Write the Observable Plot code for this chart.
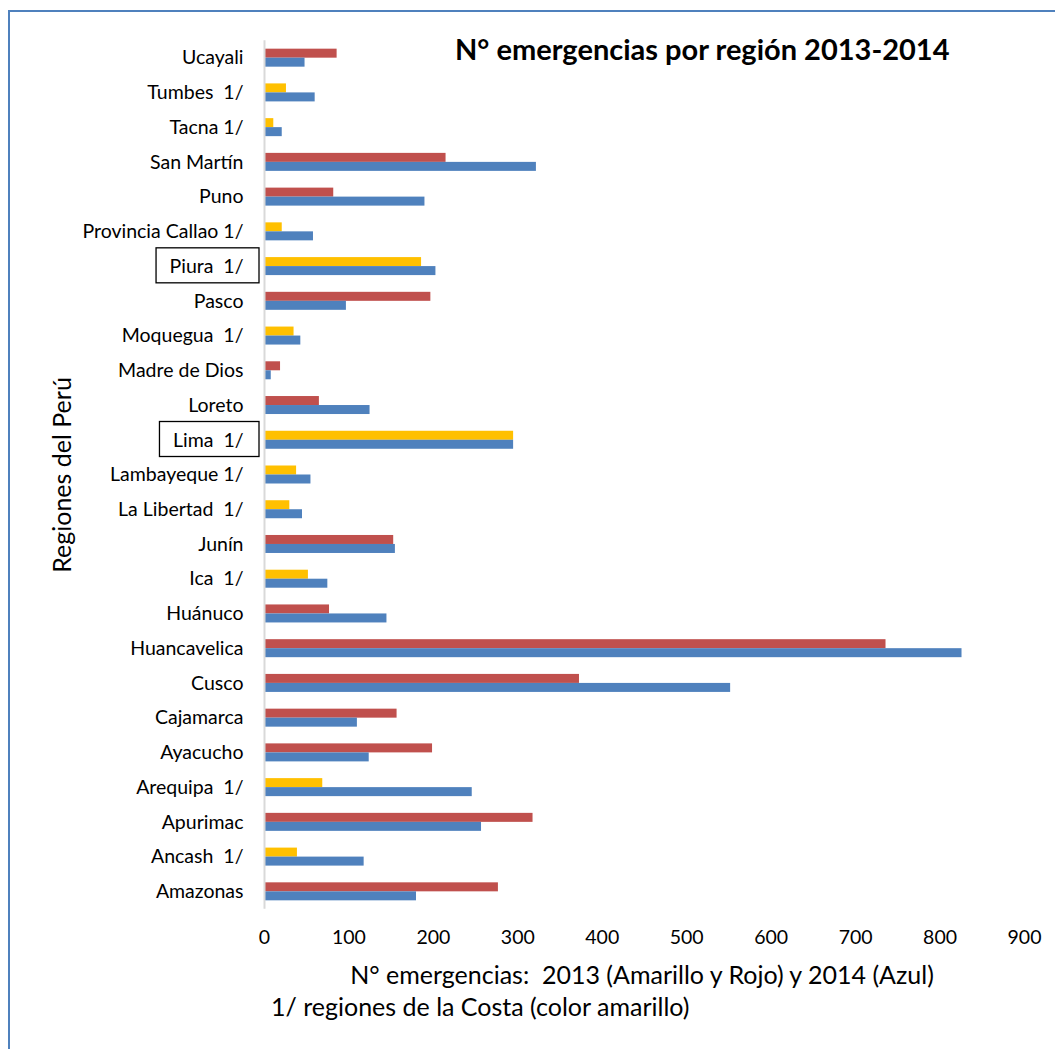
<!DOCTYPE html>
<html>
<head>
<meta charset="utf-8">
<script src="https://cdn.jsdelivr.net/npm/d3@7"></script>
<script src="https://cdn.jsdelivr.net/npm/@observablehq/plot@0.6"></script>
<style>
  html, body { margin: 0; padding: 0; background: #fff; }
  #wrap { position: relative; width: 1055px; height: 1049px; overflow: hidden; }
  #border { position: absolute; left: 8px; top: 10px; width: 1200px; height: 1200px;
            border-left: 2px solid #4f81bd; border-top: 2px solid #4f81bd; box-sizing: border-box; }
  #chart { position: absolute; left: 0; top: 0; }
  svg text { white-space: pre; }
</style>
</head>
<body>
<div id="wrap"><div id="border"></div><div id="chart"></div></div>
<script>
// Regions from top to bottom
const regions = ["Ucayali","Tumbes  1/","Tacna 1/","San Martín","Puno","Provincia Callao 1/","Piura  1/","Pasco","Moquegua  1/","Madre de Dios","Loreto","Lima  1/","Lambayeque 1/","La Libertad  1/","Junín","Ica  1/","Huánuco","Huancavelica","Cusco","Cajamarca","Ayacucho","Arequipa  1/","Apurimac","Ancash  1/","Amazonas"];
const v2013 = [86, 26, 11, 215, 82, 21, 186, 197, 35, 19, 65, 295, 38, 30, 153, 52, 77, 736, 373, 157, 199, 69, 318, 39, 277];
const v2014 = [48, 60, 21, 322, 190, 58, 203, 97, 43, 8, 125, 295, 55, 45, 155, 75, 145, 826, 552, 110, 124, 246, 257, 118, 180];
const costa = [false, true, true, false, false, true, true, false, true, false, false, true, true, true, false, true, false, false, false, false, false, true, false, true, false];
const boxed = ["Piura  1/", "Lima  1/"];
const xTicks = [0, 100, 200, 300, 400, 500, 600, 700, 800, 900];

const title = "N° emergencias por región 2013-2014";
const xLabel = "N° emergencias:  2013 (Amarillo y Rojo) y 2014 (Azul)";
const note = "1/ regiones de la Costa (color amarillo)";
const yLabel = "Regiones del Perú";

const data2013 = regions.map((r, i) => ({region: r, value: v2013[i], cat: costa[i] ? "Costa 2013" : "Otras 2013"}));
const data2014 = regions.map((r, i) => ({region: r, value: v2014[i], cat: "2014"}));

const W = 1055, H = 1049;
const mTop = 40.3, mBottom = 140.3, mLeft = 264, mRight = 31;
const step = (H - mTop - mBottom) / regions.length;
const barH = 9;

const font = "Lato, 'Open Sans', sans-serif";

const chart = Plot.plot({
  width: W,
  height: H,
  marginTop: mTop,
  marginBottom: mBottom,
  marginLeft: mLeft,
  marginRight: mRight,
  style: {fontFamily: font, fontSize: "19.5px", color: "#000", background: "transparent"},
  x: {domain: [0, 900], ticks: xTicks, tickSize: 0, tickPadding: 21, label: null},
  y: {domain: regions, padding: 0, round: false, tickSize: 0, tickPadding: 21, label: null},
  color: {domain: ["Costa 2013", "Otras 2013", "2014"], range: ["#ffc000", "#c0504d", "#4f81bd"]},
  marks: [
    Plot.barX(data2013, {y: "region", x: "value", fill: "cat", insetTop: step / 2 - barH, insetBottom: step / 2}),
    Plot.barX(data2014, {y: "region", x: "value", fill: "cat", insetTop: step / 2, insetBottom: step / 2 - barH}),
    Plot.ruleX([0], {stroke: "#d9d9d9", strokeWidth: 2})
  ]
});
document.getElementById("chart").appendChild(chart);

const svg = d3.select(chart);
// boxes around highlighted labels
svg.selectAll("g[aria-label='y-axis tick label'] text").each(function() {
  const t = d3.select(this).text();
  if (boxed.includes(t)) {
    const bb = this.getBBox();
    const ctm = this.getCTM();
    const cx = ctm.e, cy = ctm.f;
    const yc = cy + bb.y + bb.height / 2;
    const x0 = cx + bb.x - 13.5;
    svg.append("rect")
      .attr("x", x0).attr("y", yc - 17.5)
      .attr("width", (mLeft - 5) - x0).attr("height", 35)
      .attr("fill", "none").attr("stroke", "#000").attr("stroke-width", 1.3);
  }
});

svg.append("text").text(title)
  .attr("x", 455).attr("y", 60).attr("text-anchor", "start")
  .attr("font-family", font).attr("font-size", 29).attr("font-weight", "bold").attr("fill", "#000");
svg.append("text").text(xLabel)
  .attr("x", 642).attr("y", 984).attr("text-anchor", "middle")
  .attr("font-family", font).attr("font-size", 25).attr("fill", "#000");
svg.append("text").text(note)
  .attr("x", 271).attr("y", 1016).attr("text-anchor", "start")
  .attr("font-family", font).attr("font-size", 25).attr("fill", "#000");
svg.append("text").text(yLabel)
  .attr("transform", "translate(71,475) rotate(-90)").attr("text-anchor", "middle")
  .attr("font-family", font).attr("font-size", 25).attr("fill", "#000");
</script>
</body>
</html>
